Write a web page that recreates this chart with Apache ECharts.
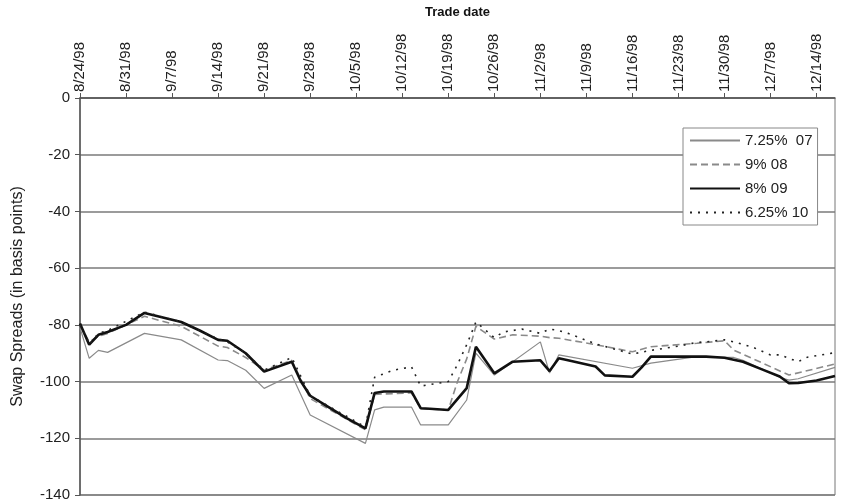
<!DOCTYPE html>
<html>
<head>
<meta charset="utf-8">
<script src="https://cdn.jsdelivr.net/npm/echarts@6/dist/echarts.min.js"></script>
<style>
  html, body { margin: 0; padding: 0; background: #fff; }
  #chart { width: 843px; height: 503px; }
</style>
</head>
<body>
<div id="chart"></div>
<script>
// Business-day categories (trade dates)
const categories = [
  '8/24/98','8/25/98','8/26/98','8/27/98','8/28/98',
  '8/31/98','9/1/98','9/2/98','9/3/98','9/4/98',
  '9/7/98','9/8/98','9/9/98','9/10/98','9/11/98',
  '9/14/98','9/15/98','9/16/98','9/17/98','9/18/98',
  '9/21/98','9/22/98','9/23/98','9/24/98','9/25/98',
  '9/28/98','9/29/98','9/30/98','10/1/98','10/2/98',
  '10/5/98','10/6/98','10/7/98','10/8/98','10/9/98',
  '10/12/98','10/13/98','10/14/98','10/15/98','10/16/98',
  '10/19/98','10/20/98','10/21/98','10/22/98','10/23/98',
  '10/26/98','10/27/98','10/28/98','10/29/98','10/30/98',
  '11/2/98','11/3/98','11/4/98','11/5/98','11/6/98',
  '11/9/98','11/10/98','11/11/98','11/12/98','11/13/98',
  '11/16/98','11/17/98','11/18/98','11/19/98','11/20/98',
  '11/23/98','11/24/98','11/25/98','11/26/98','11/27/98',
  '11/30/98','12/1/98','12/2/98','12/3/98','12/4/98',
  '12/7/98','12/8/98','12/9/98','12/10/98','12/11/98',
  '12/14/98','12/15/98','12/16/98'
];

const yTicks = [0, -20, -40, -60, -80, -100, -120, -140];

// 7.25% 07
const dates07 = ['8/24/98','8/25/98','8/26/98','8/27/98','9/2/98','9/8/98','9/14/98','9/15/98','9/17/98','9/21/98','9/24/98','9/28/98','10/6/98','10/7/98','10/8/98','10/13/98','10/14/98','10/19/98','10/21/98','10/22/98','10/26/98','11/2/98','11/3/98','11/4/98','11/16/98','11/18/98','11/25/98','11/30/98','12/1/98','12/2/98','12/8/98','12/9/98','12/10/98','12/16/98'];
const vals07  = [-81, -91.8, -89, -89.7, -83, -85.3, -92.4, -92.6, -96, -102.4, -97.7, -111.8, -121.8, -110, -109, -109, -115.3, -115.3, -106.5, -90, -97.7, -86, -97, -90.6, -95.3, -93.5, -91.2, -91.5, -91.5, -92.5, -98.5, -99.5, -99, -95];

// 9% 08
const dates08 = ['8/24/98','8/25/98','8/26/98','8/27/98','9/2/98','9/8/98','9/10/98','9/14/98','9/15/98','9/17/98','9/21/98','9/24/98','9/28/98','10/6/98','10/7/98','10/13/98','10/14/98','10/19/98','10/20/98','10/21/98','10/22/98','10/26/98','10/28/98','11/2/98','11/3/98','11/4/98','11/10/98','11/16/98','11/18/98','11/25/98','11/30/98','12/1/98','12/9/98','12/16/98'];
const vals08  = [-80, -86, -84, -83, -77, -80.5, -84, -87.5, -88, -91.5, -96, -92.5, -106, -117, -104.5, -104, -109.5, -110, -100, -92, -80.5, -85, -83.5, -84, -84.5, -84.7, -87, -89.5, -87.7, -86.5, -85.6, -88.9, -97.7, -93.8];

// 8% 09
const dates09 = ['8/24/98','8/25/98','8/26/98','8/27/98','8/31/98','9/2/98','9/8/98','9/10/98','9/14/98','9/15/98','9/17/98','9/21/98','9/24/98','9/25/98','9/28/98','9/30/98','10/2/98','10/6/98','10/7/98','10/8/98','10/13/98','10/14/98','10/15/98','10/19/98','10/21/98','10/22/98','10/26/98','10/28/98','11/2/98','11/3/98','11/4/98','11/5/98','11/10/98','11/11/98','11/16/98','11/17/98','11/18/98','11/23/98','11/26/98','11/30/98','12/2/98','12/4/98','12/8/98','12/9/98','12/10/98','12/14/98','12/16/98'];
const vals09  = [-79.5, -87, -83.5, -82.5, -80, -75.8, -79, -82, -85.3, -85.6, -90, -96.5, -93, -100, -105, -109, -113, -116.5, -104, -103.5, -103.5, -109.4, -109.6, -110, -102.3, -87.7, -97.1, -93, -92.5, -96.3, -91.8, -92.5, -94.7, -97.8, -98.3, -95, -91.2, -91.2, -91.2, -91.6, -93, -95.6, -98.2, -100.6, -100.5, -99.6, -98];

// 6.25% 10
const dates10 = ['8/24/98','8/25/98','8/26/98','8/27/98','9/2/98','9/8/98','9/14/98','9/15/98','9/17/98','9/21/98','9/24/98','9/28/98','10/6/98','10/7/98','10/9/98','10/13/98','10/14/98','10/19/98','10/20/98','10/21/98','10/22/98','10/26/98','10/27/98','10/29/98','11/2/98','11/3/98','11/4/98','11/5/98','11/6/98','11/9/98','11/10/98','11/13/98','11/16/98','11/18/98','11/23/98','11/25/98','11/26/98','11/30/98','12/1/98','12/3/98','12/7/98','12/8/98','12/10/98','12/11/98','12/16/98'];
const vals10  = [-80, -87, -83, -82, -75.5, -79, -85, -86, -90, -96, -91.5, -105, -116, -98.5, -96, -94.8, -101.6, -100, -94, -87, -79, -84.5, -82.5, -81.5, -83, -81.5, -82, -83, -84.2, -85.5, -86.7, -89.4, -90.3, -89, -87.5, -86.2, -86, -85.3, -86, -87.8, -90.6, -90.6, -93, -91.4, -89.8];

function pairs(d, v) { return d.map((x, i) => [x, v[i]]); }

const chart = echarts.init(document.getElementById('chart'), null, { renderer: 'canvas' });
const font = 'Liberation Sans, Arial, sans-serif';

chart.setOption({
  animation: false,
  backgroundColor: '#ffffff',
  textStyle: { fontFamily: font },
  grid: { left: 80, right: 8, top: 98, bottom: 8, outerBoundsMode: 'none', containLabel: false,
          show: true, borderColor: '#777', borderWidth: 1, backgroundColor: 'transparent' },
  legend: {
    orient: 'vertical',
    left: 683, top: 128,
    backgroundColor: '#fff',
    borderColor: '#888', borderWidth: 1, borderRadius: 0,
    padding: [5, 5, 5, 6],
    itemWidth: 50, itemHeight: 16, itemGap: 9,
    itemStyle: { opacity: 0, color: 'transparent', borderColor: 'transparent', borderWidth: 0 },
    textStyle: { fontSize: 15, color: '#222', fontFamily: font },
    data: ['7.25%  07', '9% 08', '8% 09', '6.25% 10']
  },
  xAxis: {
    type: 'category',
    position: 'top',
    boundaryGap: false,
    data: categories,
    name: 'Trade date',
    nameLocation: 'middle',
    nameGap: 79,
    nameTextStyle: { fontSize: 13, fontWeight: 'bold', color: '#111', fontFamily: font },
    axisLine: { lineStyle: { color: '#555', width: 1.5 } },
    axisTick: { show: true, interval: 4, length: 5, lineStyle: { color: '#555' } },
    axisLabel: { interval: 4, rotate: 90, fontSize: 15, color: '#222', margin: 6, fontFamily: font },
    splitLine: { show: false }
  },
  yAxis: {
    type: 'value',
    min: -140, max: 0, interval: 20,
    name: 'Swap Spreads (in basis points)',
    nameLocation: 'middle',
    nameGap: 54,
    nameRotate: 90,
    nameTextStyle: { fontSize: 16, color: '#222', fontFamily: font },
    axisLine: { show: true, lineStyle: { color: '#555', width: 1.5 } },
    axisTick: { show: true, length: 5, lineStyle: { color: '#555' } },
    axisLabel: { fontSize: 15, color: '#222', margin: 10, fontFamily: font },
    splitLine: { show: true, lineStyle: { color: '#7a7a7a', width: 1.5 } }
  },
  series: [
    { name: '7.25%  07', type: 'line', data: pairs(dates07, vals07), symbol: 'none', z: 2,
      lineStyle: { color: '#8a8a8a', width: 1.2, type: 'solid' }, itemStyle: { color: '#8a8a8a' } },
    { name: '9% 08', type: 'line', data: pairs(dates08, vals08), symbol: 'none', z: 3,
      lineStyle: { color: '#8a8a8a', width: 1.6, type: [7, 4] }, itemStyle: { color: '#8a8a8a' } },
    { name: '8% 09', type: 'line', data: pairs(dates09, vals09), symbol: 'none', z: 4,
      lineStyle: { color: '#111', width: 2.6, type: 'solid' }, itemStyle: { color: '#111' } },
    { name: '6.25% 10', type: 'line', data: pairs(dates10, vals10), symbol: 'none', z: 5,
      lineStyle: { color: '#222', width: 1.6, type: [2, 6] }, itemStyle: { color: '#222' } }
  ]
});
</script>
</body>
</html>
